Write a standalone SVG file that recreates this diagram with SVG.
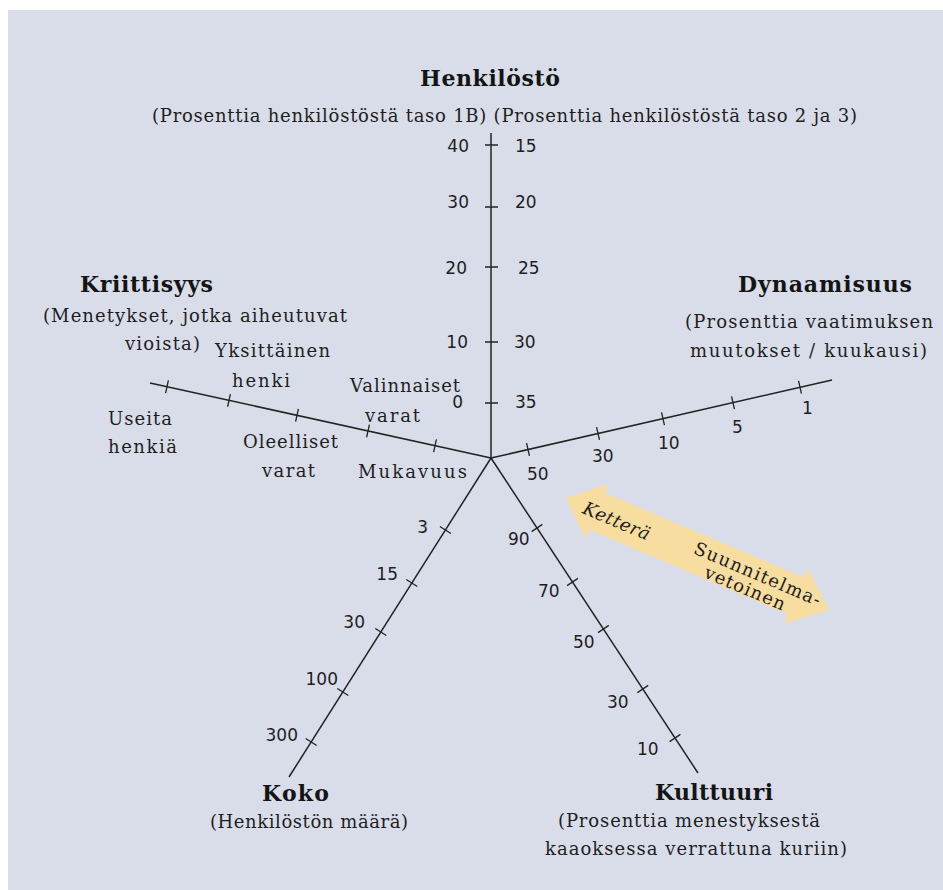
<svg xmlns="http://www.w3.org/2000/svg" width="943" height="890" viewBox="0 0 943 890">
<style>
.t{font-family:"DejaVu Serif","Liberation Serif",serif;font-weight:bold;font-size:22px;fill:#141414}
.s{font-family:"DejaVu Serif","Liberation Serif",serif;font-size:18px;fill:#1e1e1e}
.n{font-family:"DejaVu Sans","Liberation Sans",sans-serif;font-size:17px;fill:#1e1e1e}
.e{text-anchor:end}
.ax{stroke:#222;stroke-width:1.5;fill:none;stroke-linecap:butt}
.tk{stroke:#222;stroke-width:1.3;fill:none}
.arr{fill:#f8dda0}
.at{font-family:"DejaVu Serif","Liberation Serif",serif;font-size:18px;fill:#1e1e1e}
</style>
<rect x="0" y="0" width="943" height="890" fill="#ffffff"/>
<rect x="8" y="10" width="935" height="880" fill="#d9dde9"/>

<g id="connectors">
  <path class="ax" d="M491,133 V458"/>
  <path class="ax" d="M491,458 L832,380"/>
  <path class="ax" d="M491,458 L150,383"/>
  <path class="ax" d="M491,458 L289,777"/>
  <path class="ax" d="M491,458 L698,773"/>
  <path class="tk" d="M485,145H498M485,207H498M485,267H498M485,342H498M485,403H498"/>
  <path class="tk" d="M526.55,443.16L529.45,455.84M596.55,427.16L599.45,439.84M661.55,412.36L664.45,425.04M731.55,396.36L734.45,409.04M798.55,380.96L801.45,393.64"/>
  <path class="tk" d="M165.6,393.05L168.4,380.35M227.6,406.75L230.4,394.05M295.6,421.65L298.4,408.95M366.6,437.25L369.4,424.55M433.6,452.05L436.4,439.35"/>
  <path class="tk" d="M439.9,526.5L450.9,533.5M406.3,579.5L417.3,586.5M375.3,628.5L386.3,635.5M337.3,688.5L348.3,695.5M305.7,738.5L316.7,745.5"/>
  <path class="tk" d="M531.6,531.6L542.4,524.4M567.1,585.6L577.9,578.4M598,632.6L608.8,625.4M637.4,692.6L648.2,685.4M669.6,741.6L680.4,734.4"/>
</g>

<g id="henkilosto">
  <text class="t" x="420" y="86" textLength="140">Henkilöstö</text>
  <text class="s" x="152" y="122" textLength="705">(Prosenttia henkilöstöstä taso 1B) (Prosenttia henkilöstöstä taso 2 ja 3)</text>
  <text class="n e" x="469" y="152">40</text>
  <text class="n e" x="469" y="208">30</text>
  <text class="n e" x="467" y="274">20</text>
  <text class="n e" x="468" y="348">10</text>
  <text class="n e" x="463" y="408">0</text>
  <text class="n" x="515" y="152">15</text>
  <text class="n" x="515" y="208">20</text>
  <text class="n" x="518" y="274">25</text>
  <text class="n" x="514" y="348">30</text>
  <text class="n" x="515" y="408">35</text>
</g>

<g id="kriittisyys">
  <text class="t" x="80" y="292" textLength="133">Kriittisyys</text>
  <text class="s" x="43" y="322" textLength="304">(Menetykset, jotka aiheutuvat</text>
  <text class="s" x="125" y="350" textLength="75">vioista)</text>
  <text class="s" x="215" y="357" textLength="115">Yksittäinen</text>
  <text class="s" x="232" y="387" textLength="58">henki</text>
  <text class="s" x="350" y="392" textLength="110">Valinnaiset</text>
  <text class="s" x="365" y="422" textLength="55">varat</text>
  <text class="s" x="108" y="425" textLength="64">Useita</text>
  <text class="s" x="108" y="453" textLength="69">henkiä</text>
  <text class="s" x="243" y="448" textLength="95">Oleelliset</text>
  <text class="s" x="262" y="477" textLength="53">varat</text>
  <text class="s" x="358" y="478" textLength="109">Mukavuus</text>
</g>

<g id="dynaamisuus">
  <text class="t" x="738" y="292" textLength="174">Dynaamisuus</text>
  <text class="s" x="685" y="328" textLength="248">(Prosenttia vaatimuksen</text>
  <text class="s" x="690" y="357" textLength="237">muutokset / kuukausi)</text>
  <text class="n" x="527" y="480">50</text>
  <text class="n" x="592" y="462">30</text>
  <text class="n" x="658" y="449">10</text>
  <text class="n" x="732" y="433">5</text>
  <text class="n" x="802" y="414">1</text>
</g>

<g id="koko">
  <text class="t" x="262" y="801" textLength="67">Koko</text>
  <text class="s" x="210" y="828" textLength="198">(Henkilöstön määrä)</text>
  <text class="n e" x="428" y="533">3</text>
  <text class="n e" x="398" y="580">15</text>
  <text class="n e" x="365" y="628">30</text>
  <text class="n e" x="338" y="685">100</text>
  <text class="n e" x="298" y="741">300</text>
</g>

<g id="kulttuuri">
  <text class="t" x="655" y="800" textLength="118">Kulttuuri</text>
  <text class="s" x="558" y="827" textLength="262">(Prosenttia menestyksestä</text>
  <text class="s" x="545" y="855" textLength="302">kaaoksessa verrattuna kuriin)</text>
  <text class="n" x="508" y="545">90</text>
  <text class="n" x="538" y="597">70</text>
  <text class="n" x="573" y="648">50</text>
  <text class="n" x="607" y="708">30</text>
  <text class="n" x="637" y="755">10</text>
</g>

<g id="ketteraArrow" transform="translate(566,498) rotate(23.07)">
  <polygon class="arr" points="0,0 34,-30 34,-20 250,-20 250,-30 286,0 250,30 250,20 34,20 34,30"/>
  <text class="at" x="20" y="7.5" font-style="italic" textLength="71">Ketterä</text>
  <text class="at" x="138" y="1" textLength="136">Suunnitelma-</text>
  <text class="at" x="157" y="19" textLength="86">vetoinen</text>
</g>
</svg>
